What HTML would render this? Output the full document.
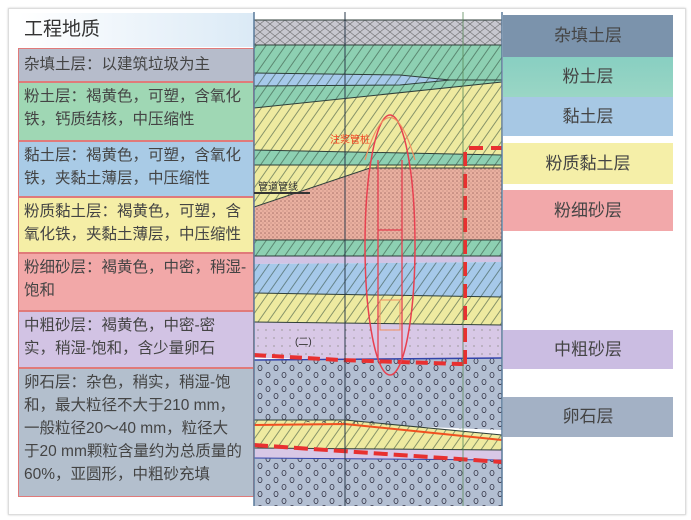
<!DOCTYPE html>
<html><head><meta charset="utf-8"><style>
html,body{margin:0;padding:0;background:#fff;}
body{width:691px;height:520px;position:relative;overflow:hidden;font-family:"Liberation Sans","Noto Sans CJK SC",sans-serif;}
.frame{position:absolute;left:8px;top:8px;width:676px;height:505px;border:1px solid #ddd;box-shadow:0 0 2px #ccc;}
.title{position:absolute;left:18px;top:13px;width:236px;height:34px;background:linear-gradient(90deg,#fff 0%,#dbeaf6 100%);font-size:19px;color:#333;line-height:34px;padding-left:6px;box-sizing:border-box;}
.lb{position:absolute;left:18px;width:236px;box-sizing:border-box;border:1.5px solid #e07a7a;color:#444;font-size:15.5px;line-height:23px;padding:2px 0 2px 5px;white-space:nowrap;overflow:hidden;}
.rb{position:absolute;left:503px;width:170px;text-align:center;font-size:17px;color:#444;}
</style></head><body>
<div class="frame"></div>
<div class="title">工程地质</div>
<div class="lb" style="top:48px;height:34px;background:#b6bccb;line-height:28px;">杂填土层：以建筑垃圾为主</div>
<div class="lb" style="top:82px;height:59px;background:#9fd7b4;">粉土层：褐黄色，可塑，含氧化<br>铁，钙质结核，中压缩性</div>
<div class="lb" style="top:141px;height:56px;background:#a9cbe6;">黏土层：褐黄色，可塑，含氧化<br>铁，夹黏土薄层，中压缩性</div>
<div class="lb" style="top:197px;height:56px;background:#f5eea6;">粉质黏土层：褐黄色，可塑，含<br>氧化铁，夹黏土薄层，中压缩性</div>
<div class="lb" style="top:253px;height:58px;background:#f2a8a8;">粉细砂层：褐黄色，中密，稍湿-<br>饱和</div>
<div class="lb" style="top:311px;height:57px;background:#d2c3e4;">中粗砂层：褐黄色，中密-密<br>实，稍湿-饱和，含少量卵石</div>
<div class="lb" style="top:368px;height:129px;background:#b3bfcd;">卵石层：杂色，稍实，稍湿-饱<br>和，最大粒径不大于210 mm，<br>一般粒径20～40 mm，粒径大<br>于20 mm颗粒含量约为总质量的<br>60%，亚圆形，中粗砂充填</div>

<svg style="position:absolute;left:0;top:0" width="691" height="520">
<defs>
<pattern id="h" width="8" height="8" patternUnits="userSpaceOnUse" patternTransform="rotate(35)"><line x1="4" y1="0" x2="4" y2="8" stroke="#2f4a3a" stroke-width="0.9"/></pattern>
<pattern id="d" width="4" height="4" patternUnits="userSpaceOnUse"><circle cx="1" cy="1" r="0.8" fill="#7a4a44"/><circle cx="3" cy="3" r="0.6" fill="#9a6a60"/></pattern>
<pattern id="p" width="8" height="8" patternUnits="userSpaceOnUse"><circle cx="2" cy="2" r="0.6" fill="#776"/></pattern>
<pattern id="o" width="16" height="14" patternUnits="userSpaceOnUse"><ellipse cx="4" cy="4" rx="2" ry="2.6" fill="none" stroke="#334" stroke-width="0.8"/><ellipse cx="12" cy="11" rx="2" ry="2.6" fill="none" stroke="#334" stroke-width="0.8"/></pattern>
<pattern id="x" width="10" height="8" patternUnits="userSpaceOnUse"><path d="M0 0L10 8M10 0L0 8" stroke="#444" stroke-width="0.6"/></pattern>
</defs>
<rect x="254" y="12" width="248" height="494" fill="#fff"/>
<polygon points="254,20 502,20 502,45 254,45" fill="#c7c7cf"/>
<polygon points="254,20 502,20 502,45 254,45" fill="url(#x)" opacity="0.7"/>
<polygon points="254,45 502,45 502,82 254,88" fill="#8dd0b2"/>
<polygon points="254,73 400,75 450,80 400,85 254,86" fill="#a6c9ea"/>
<polygon points="254,86 400,85 450,80 502,80 502,82 254,108" fill="#8dd0b2"/>
<polygon points="254,108 502,82 502,155 254,150" fill="#eeeaa0"/>
<polygon points="254,150 502,155 502,165 254,165" fill="#8dd0b2"/>
<polygon points="254,165 502,165 502,168 370,168 254,207" fill="#eeeaa0"/>
<polygon points="254,45 502,45 502,240 254,240" fill="url(#h)" opacity="0.6"/>
<polygon points="254,207 370,168 502,168 502,240 254,240" fill="#eab0a0"/>
<polygon points="254,207 370,168 502,168 502,240 254,240" fill="url(#d)" opacity="0.6"/>
<polygon points="254,240 502,240 502,256 254,256" fill="#8dd0b2"/>
<polygon points="254,256 502,256 502,262 254,264" fill="#d2c3e4"/>
<polygon points="254,264 502,262 502,297 254,293" fill="#a6c9ea"/>
<polygon points="254,293 502,297 502,325 254,322" fill="#eeeaa0"/>
<polygon points="254,322 502,325 502,360 254,358" fill="#d8c8e6"/>
<polygon points="254,322 502,325 502,360 254,358" fill="url(#p)"/>
<polygon points="254,360 502,358 502,430 254,420" fill="#b3bfd2"/>
<polygon points="254,420 345,420 502,435 502,450 254,448" fill="#eeeaa0"/>
<polygon points="254,448 502,450 502,460 254,458" fill="#d8c8e6"/>
<polygon points="254,458 502,460 502,506 254,506" fill="#b3bfd2"/>
<polygon points="254,360 502,358 502,430 254,420" fill="url(#o)"/>
<polygon points="254,458 502,460 502,506 254,506" fill="url(#o)"/>
<polygon points="254,240 502,240 502,256 254,256" fill="url(#h)" opacity="0.6"/>
<polygon points="254,264 502,262 502,325 254,322" fill="url(#h)" opacity="0.6"/>
<polygon points="254,420 345,420 502,435 502,450 254,448" fill="url(#h)" opacity="0.6"/>
<g stroke="#2f3f3a" stroke-width="1" fill="none">
<path d="M254,20H502M254,45H502M254,73L400,75L450,80M254,86L400,85L450,80L502,80M254,108L502,82M254,150L502,155M254,165L502,165M254,207L370,168L502,168M254,240H502M254,256H502M254,293L502,297M254,322L502,325M254,420L345,420L502,435M254,448L502,450"/>
</g>
<path d="M254,360L502,358" stroke="#3344aa" stroke-width="1.5" fill="none"/>
<path d="M254,458L502,460" stroke="#3344aa" stroke-width="1" fill="none"/>
<path d="M254,425L345,424L502,440" stroke="#f05020" stroke-width="2" fill="none"/>
<path d="M254,355L340,360L460,364L465,364" stroke="#e83030" stroke-width="4" stroke-dasharray="12,6" fill="none"/>
<path d="M254,445L502,462" stroke="#e83030" stroke-width="4" stroke-dasharray="14,6" fill="none"/>
<path d="M465,364V148H502" stroke="#e83030" stroke-width="4" stroke-dasharray="14,8" fill="none"/>
<line x1="345" y1="12" x2="345" y2="506" stroke="#2a3a4a" stroke-width="1"/>
<line x1="463" y1="12" x2="463" y2="506" stroke="#5a8a5a" stroke-width="0.8"/>
<line x1="254" y1="12" x2="254" y2="506" stroke="#5a7a9a" stroke-width="1.5"/>
<line x1="502" y1="12" x2="502" y2="506" stroke="#5a7a9a" stroke-width="1.5"/>
<ellipse cx="390" cy="245" rx="25" ry="130" fill="none" stroke="#e84050" stroke-width="1.5"/>
<path d="M365,160Q390,75 415,160" fill="none" stroke="#f09060" stroke-width="1.2"/>
<path d="M378,160V360M402,160V360M378,230H402" stroke="#e84050" stroke-width="1.3" fill="none"/>
<rect x="380" y="300" width="20" height="30" fill="none" stroke="#f09060"/>
<text x="330" y="143" font-size="10" fill="#f04020" font-family="Liberation Sans,Noto Sans CJK SC,sans-serif">注浆管桩</text>
<text x="258" y="190" font-size="10" fill="#333" font-family="Liberation Sans,Noto Sans CJK SC,sans-serif">管道管线</text>
<path d="M254,193L310,193" stroke="#333" stroke-width="2"/>
<text x="295" y="345" font-size="10" fill="#333">(二)</text>
</svg>

<div class="rb" style="top:15px;height:42px;line-height:42px;background:#7b93ac;">杂填土层</div>
<div class="rb" style="top:57px;height:40px;line-height:40px;background:linear-gradient(#88cfc2,#9ad6c4);">粉土层</div>
<div class="rb" style="top:97px;height:39px;line-height:39px;background:#a7c8e4;">黏土层</div>
<div class="rb" style="top:143px;height:41px;line-height:41px;background:#f5efa8;">粉质黏土层</div>
<div class="rb" style="top:190px;height:41px;line-height:41px;background:#f2a8aa;">粉细砂层</div>
<div class="rb" style="top:330px;height:39px;line-height:39px;background:#cbbde2;">中粗砂层</div>
<div class="rb" style="top:397px;height:40px;line-height:40px;background:#a3b1c5;">卵石层</div>
</body></html>
